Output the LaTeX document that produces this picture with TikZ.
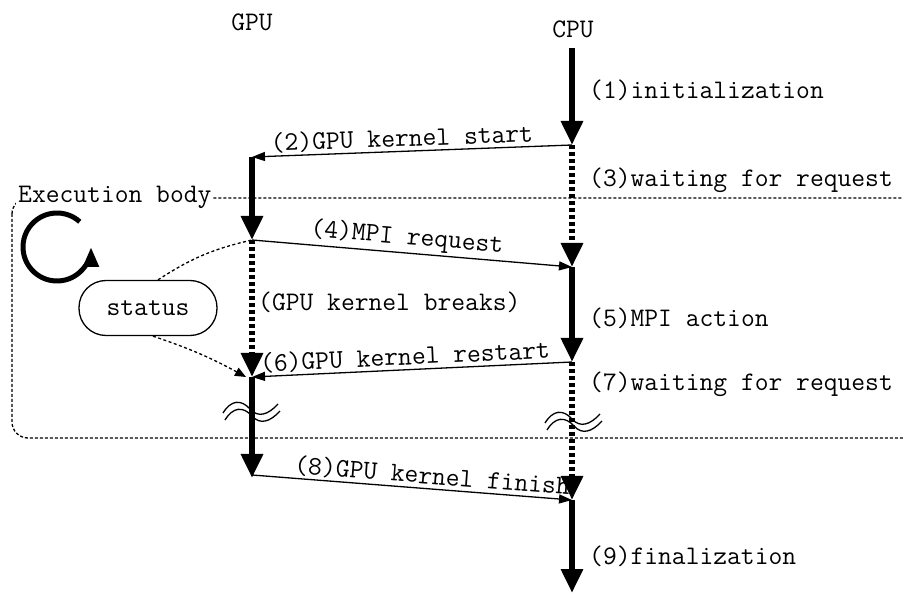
\documentclass[tikz,border=0pt]{standalone}
\usepackage{fontspec}
\usetikzlibrary{arrows.meta}

\tikzset{
  lbl/.style={font=\ttfamily\fontsize{26.8}{30}\selectfont, inner sep=0pt},
  flow/.style={line width=6.5pt, -{Triangle[width=21pt,length=24pt]}},
  waitflow/.style={flow, dash pattern=on 4pt off 3pt},
  msg/.style={line width=1.3pt, -{Triangle[width=9pt,length=13pt]}},
  msglbl/.style={lbl, sloped, above, inner sep=2pt},
  bodyline/.style={line width=1.3pt, dash pattern=on 3pt off 2pt},
  link/.style={line width=1.3pt, dash pattern=on 3pt off 2.5pt},
  brk/.style={line width=1.3pt},
}

\begin{document}
\begin{tikzpicture}[x=1pt, y=-1pt]
\clip (0,0) rectangle (903,593);

% time-line anchor points
\coordinate (c0) at (572,48);
\coordinate (c1) at (572,145);
\coordinate (c2) at (572,267);
\coordinate (c3) at (572,362);
\coordinate (c4) at (572,500);
\coordinate (c5) at (572,593);
\coordinate (g1) at (252,157);
\coordinate (g2) at (252,240);
\coordinate (g3) at (252,377);
\coordinate (g4) at (252,478);
\coordinate (g4s) at (252,475);
\coordinate (gin) at (246,377);

% execution body frame
\draw[bodyline, rounded corners=16pt] (12,198) rectangle (920,438);
\node[lbl, anchor=west, fill=white, inner xsep=2pt, inner ysep=4pt] (body) at (16,197) {Execution body};

% column headings
\node[lbl] (gpu) at (252,22) {GPU};
\node[lbl] (cpu) at (573,29) {CPU};

% loop symbol (y axis points down, so angles run clockwise)
\coordinate (loopc) at (57,247);
\draw[line width=5pt, -{Triangle[width=15pt,length=20pt]}]
  (loopc) ++(-48:34) arc[start angle=-48, end angle=-360, radius=34];

% status box
\node[lbl, draw, line width=1.3pt, rounded corners=27pt, minimum width=138pt, minimum height=55pt] (status) at (148,308) {status};
\draw[link] (status.north) ++(10,0) coordinate (st) to[bend left=10] (g2);
\draw[link, -{Triangle[width=9pt,length=11pt]}] (status.south) ++(5,0) coordinate (sb) to[bend left=5] (gin);

% CPU time line
\draw[flow] (c0) -- (c1);
\draw[waitflow] (c1) -- (c2);
\draw[flow] (c2) -- (c3);
\draw[waitflow] (c3) -- (c4);
\draw[flow] (c4) -- (c5);

% GPU time line
\draw[flow] (g1) -- (g2);
\draw[waitflow] (g2) -- (g3);
\draw[flow] (g3) -- (g4);

% messages between CPU and GPU
\draw[msg] (c1) -- node[msglbl, pos=0.53] (m2) {(2)GPU kernel start} (g1);
\draw[msg] (g2) -- node[msglbl, pos=0.48] (m4) {(4)MPI request} (c2);
\draw[msg] (c3) -- node[msglbl, pos=0.52] (m6) {(6)GPU kernel restart} (g3);
\draw[msg] (g4s) -- node[msglbl, pos=0.56] (m8) {(8)GPU kernel finish} (c4);

% phase labels
\node[lbl, anchor=west] (p1) at (589,90) {(1)initialization};
\node[lbl, anchor=west] (p3) at (589,180) {(3)waiting for request};
\node[lbl, anchor=west] (p5) at (589,318) {(5)MPI action};
\node[lbl, anchor=west] (p7) at (589,384) {(7)waiting for request};
\node[lbl, anchor=west] (p9) at (589,556) {(9)finalization};
\node[lbl, anchor=west] (pb) at (258,302) {(GPU kernel breaks)};

% time-skip marks
\foreach \dx/\dy in {0/0, 322/10} {
  \begin{scope}[shift={(\dx,\dy)}]
    \draw[brk] (223,413) .. controls (231,400) and (241,399) .. (250,409)
                         .. controls (258,418) and (268,415) .. (278,404);
    \draw[brk] (225,420) .. controls (233,407) and (243,406) .. (252,416)
                         .. controls (260,425) and (270,422) .. (280,411);
  \end{scope}
}
\end{tikzpicture}
\end{document}
